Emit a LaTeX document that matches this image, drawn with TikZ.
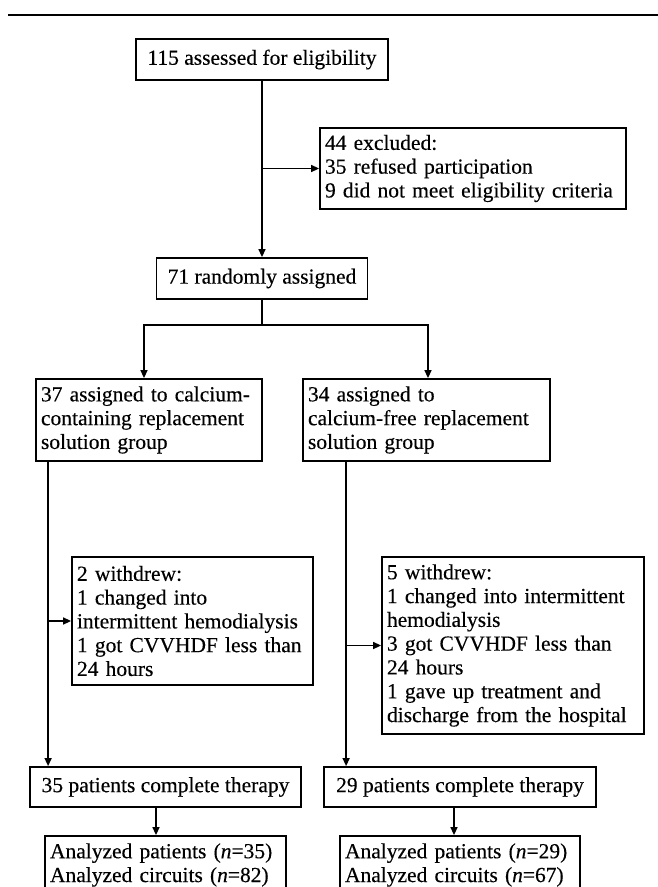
\documentclass[tikz,border=0pt]{standalone}
\usepackage{fontspec}
\setmainfont{Liberation Serif}[FakeBold=0.3]
\usetikzlibrary{arrows.meta}

\begin{document}
\begin{tikzpicture}[x=1pt,y=-1pt,
	box/.style={draw, line width=1.8pt, inner xsep=5pt, inner ysep=0pt, font=\fontsize{21.5}{23.8}\selectfont},
	onebox/.style={box, align=center},
	multibox/.style={box, align=left},
	arr/.style={line width=1.4pt, -{Triangle[length=8pt,width=7pt]}}]

	\useasboundingbox (0,0) rectangle (658,887);
	\draw[line width=2.8pt] (8,15) -- (665,15);

	\node (assess) [onebox, minimum width=252pt, minimum height=41pt] at (262,59.5) {115 assessed for eligibility};
	\node (excl) [multibox, text width=296pt, minimum height=81pt] at (473,168.5) {44 excluded:\\35 refused participation\\9 did not meet eligibility criteria};
	\node (rand) [onebox, minimum width=211pt, minimum height=41pt] at (262,278.5) {71 randomly assigned};

	\node (ca) [multibox, text width=216pt, minimum height=82pt] at (149,420) {37 assigned to calcium-\\containing replacement\\solution group};
	\node (free) [multibox, text width=237pt, minimum height=82pt] at (426.5,420) {34 assigned to\\calcium-free replacement\\solution group};

	\node (wl) [multibox, text width=231pt, minimum height=128pt] at (192.5,621) {2 withdrew:\\1 changed into\\intermittent hemodialysis\\1 got CVVHDF less than\\24 hours};
	\node (wr) [multibox, text width=252pt, minimum height=177pt] at (513,645.5) {5 withdrew:\\1 changed into intermittent\\hemodialysis\\3 got CVVHDF less than\\24 hours\\1 gave up treatment and\\discharge from the hospital};

	\node (cl) [onebox, minimum width=271pt, minimum height=40pt] at (165.5,787) {35 patients complete therapy};
	\node (cr) [onebox, minimum width=272pt, minimum height=40pt] at (460,787) {29 patients complete therapy};

	\node (al) [multibox, text width=231pt, minimum height=58pt] at (165.5,865) {Analyzed patients (\textit{n}=35)\\Analyzed circuits (\textit{n}=82)};
	\node (ar) [multibox, text width=230pt, minimum height=58pt] at (460,865) {Analyzed patients (\textit{n}=29)\\Analyzed circuits (\textit{n}=67)};

	\coordinate (split) at (262,325);
	\coordinate (lt) at ([xshift=13pt]ca.south west);
	\coordinate (rt) at ([xshift=44pt]free.south west);

	\draw[arr] (assess.south) -- (rand.north);
	\draw[arr] (assess.south |- excl.west) -- (excl.west);
	\draw[line width=1.4pt] (rand.south) -- (split);
	\draw[arr] (split) -| ([xshift=-5pt]ca.north);
	\draw[arr] (split) -| ([xshift=1.5pt]free.north);
	\draw[arr] (lt) -- (lt |- cl.north);
	\draw[arr] (lt |- wl.west) -- (wl.west);
	\draw[arr] (rt) -- (rt |- cr.north);
	\draw[arr] (rt |- wr.west) -- (wr.west);
	\draw[arr] ([xshift=-9.5pt]cl.south) -- ([xshift=-9.5pt]al.north);
	\draw[arr] ([xshift=-6pt]cr.south) -- ([xshift=-6pt]ar.north);

\end{tikzpicture}
\end{document}
